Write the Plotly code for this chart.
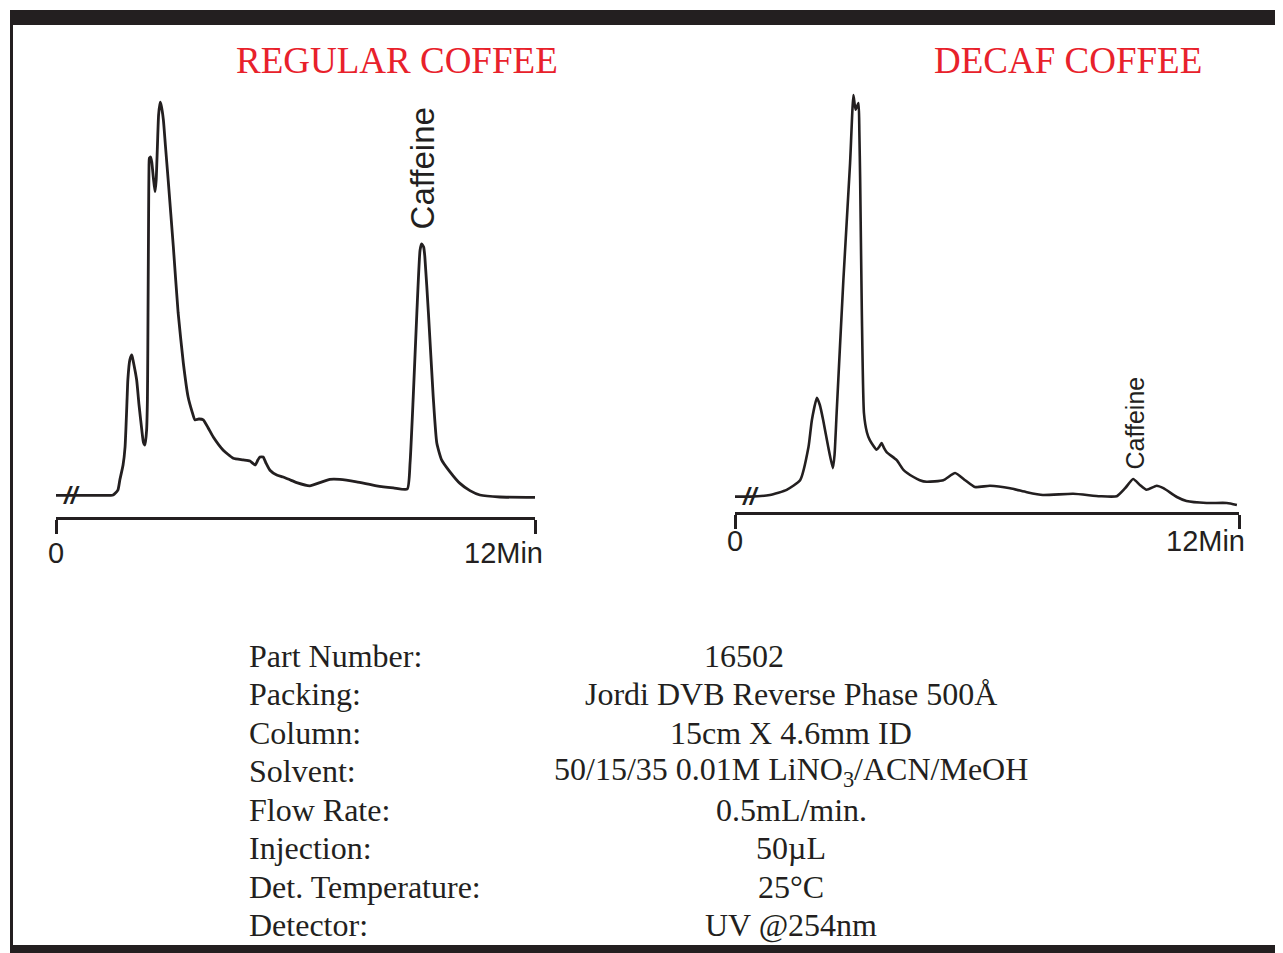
import plotly.graph_objects as go

# ---- chromatogram data (time in min, detector response in arbitrary units) ----
regular_time = [
    0.0, 0.48, 1.10, 1.43, 1.55, 1.60, 1.68, 1.73, 1.78, 1.80, 1.85, 1.90, 1.94,
    2.02, 2.08, 2.15, 2.19, 2.23, 2.27, 2.29, 2.30, 2.31, 2.32, 2.33, 2.34, 2.37,
    2.40, 2.44, 2.48, 2.51, 2.54, 2.57, 2.61, 2.64, 2.69, 2.74, 2.81, 2.94, 3.06,
    3.19, 3.31, 3.41, 3.48, 3.58, 3.69, 3.81, 3.94, 4.19, 4.44, 4.69, 4.86, 4.99,
    5.06, 5.11, 5.19, 5.26, 5.36, 5.53, 5.69, 5.86, 6.03, 6.36, 6.61, 6.86, 7.11,
    7.53, 8.03, 8.45, 8.80, 8.87, 8.95, 9.04, 9.12, 9.16, 9.21, 9.24, 9.33, 9.45,
    9.54, 9.66, 9.87, 10.12, 10.37, 10.62, 11.12, 12.0,
]
regular_signal = [
    -0.1, -0.1, -0.1, 0.0, 1.2, 3.8, 7.5, 12.0, 23.8, 28.8, 33.8, 35.0, 33.2,
    28.8, 22.5, 16.2, 13.2, 12.5, 16.2, 23.8, 36.2, 53.8, 70.5, 82.5, 84.2, 84.5,
    83.2, 79.2, 75.8, 78.8, 87.0, 95.0, 98.2, 97.2, 93.8, 87.5, 78.8, 62.0, 45.5,
    33.0, 24.5, 20.8, 18.8, 19.0, 18.8, 16.8, 14.5, 11.2, 9.2, 8.8, 8.5, 7.5,
    8.8, 9.5, 9.5, 8.0, 6.2, 5.0, 4.5, 3.8, 3.1, 2.3, 3.1, 3.9, 3.9,
    3.3, 2.3, 1.8, 1.5, 8.0, 24.6, 45.5, 61.2, 62.8, 62.0, 59.6, 45.5, 24.6,
    13.0, 8.8, 5.8, 2.9, 1.1, 0.0, -0.5, -0.6,
]

decaf_time = [
    0.0, 0.36, 0.83, 1.23, 1.55, 1.75, 1.83, 1.95, 2.02, 2.10, 2.22, 2.33, 2.37,
    2.42, 2.58, 2.74, 2.82, 2.87, 2.94, 2.96, 2.98, 3.02, 3.07, 3.14, 3.21, 3.37,
    3.43, 3.49, 3.55, 3.61, 3.85, 4.01, 4.25, 4.40, 4.56, 4.96, 5.24, 5.48, 5.71,
    6.07, 6.55, 6.95, 7.33, 8.05, 8.69, 9.09, 9.29, 9.48, 9.64, 9.80, 10.04, 10.20,
    10.52, 10.75, 11.23, 11.71, 11.95,
]
decaf_signal = [
    0.1, 0.1, 0.5, 1.8, 4.2, 12.5, 19.2, 24.8, 23.0, 19.2, 12.5, 7.2, 10.5,
    21.0, 54.2, 83.5, 100.5, 96.8, 98.5, 91.8, 79.2, 46.0, 21.0, 16.2, 14.2, 11.8,
    12.5, 13.5, 12.2, 11.2, 9.2, 6.8, 5.0, 4.2, 3.8, 4.2, 6.0, 4.2, 2.5,
    2.8, 2.2, 1.2, 0.5, 0.8, 0.2, 0.2, 2.2, 4.5, 3.0, 1.8, 2.8, 2.2,
    0.0, -1.0, -1.5, -1.5, -2.0,
]

caffeine_regular = (9.19, 81.6)   # label position (time, response)
caffeine_decaf = (9.52, 18.6)

panel_titles = ["REGULAR COFFEE", "DECAF COFFEE"]
axis_end_labels = ["0", "12Min"]

param_labels = [
    "Part Number:", "Packing:", "Column:", "Solvent:", "Flow Rate:",
    "Injection:", "Det. Temperature:", "Detector:",
]
param_values = [
    "16502", "Jordi DVB Reverse Phase 500Å", "15cm X 4.6mm ID",
    "50/15/35 0.01M LiNO<sub>3</sub>/ACN/MeOH", "0.5mL/min.", "50µL",
    "25°C", "UV @254nm",
]

# ---- layout helpers (page pixel -> paper); page body adds an 8px margin ----
OFF = 8
W, H = 1283 - OFF, 953 - OFF
INK = "#231f20"
RED = "#e8212b"


def px(x):
    return (x - OFF) / W


def py(y):
    return 1 - (y - OFF) / H


fig = go.Figure()

fig.add_trace(go.Scatter(
    x=regular_time, y=regular_signal, mode="lines",
    line=dict(color=INK, width=2.8, shape="spline", smoothing=0.5),
    xaxis="x", yaxis="y", hoverinfo="skip", showlegend=False,
))
fig.add_trace(go.Scatter(
    x=decaf_time, y=decaf_signal, mode="lines",
    line=dict(color=INK, width=2.6, shape="spline", smoothing=0.5),
    xaxis="x2", yaxis="y2", hoverinfo="skip", showlegend=False,
))

xcommon = dict(
    range=[0, 12], showline=True, linecolor=INK, linewidth=2.5,
    ticks="outside", tickvals=[0, 12], ticklen=14, tickwidth=2.5, tickcolor=INK,
    showticklabels=False, showgrid=False, zeroline=False, fixedrange=True,
)
ycommon = dict(visible=False, showgrid=False, zeroline=False, fixedrange=True)

fig.update_layout(
    width=W, height=H,
    margin=dict(l=0, r=0, t=0, b=0),
    paper_bgcolor="white", plot_bgcolor="white",
    showlegend=False,
    xaxis=dict(domain=[px(56), px(535)], anchor="y", **xcommon),
    yaxis=dict(domain=[py(517), py(90)], anchor="x",
               range=[(495 - 517) / 4, (495 - 90) / 4], **ycommon),
    xaxis2=dict(domain=[px(735), px(1239)], anchor="y2", **xcommon),
    yaxis2=dict(domain=[py(512), py(90)], anchor="x2",
                range=[(497 - 512) / 4, (497 - 90) / 4], **ycommon),
)

annotations = []

# panel titles
for title, cx in zip(panel_titles, [397, 1068]):
    annotations.append(dict(
        text=title, x=px(cx), y=py(61), xref="paper", yref="paper",
        xanchor="center", yanchor="middle", showarrow=False,
        font=dict(family="Liberation Serif", size=37, color=RED),
    ))

# axis end labels
sans = dict(family="Liberation Sans", size=29, color=INK)
for xr, ypix, shift in [("x", 553, 10), ("x2", 541, 8)]:
    annotations.append(dict(
        text=axis_end_labels[0], x=0, y=py(ypix), xref=xr, yref="paper",
        showarrow=False, xanchor="center", yanchor="middle", font=sans,
    ))
    annotations.append(dict(
        text=axis_end_labels[1], x=12, y=py(ypix), xref=xr, yref="paper",
        showarrow=False, xanchor="right", yanchor="middle", xshift=shift,
        font=sans,
    ))

# caffeine labels
annotations.append(dict(
    text="Caffeine", x=caffeine_regular[0], y=caffeine_regular[1],
    xref="x", yref="y", showarrow=False, textangle=-90,
    xanchor="center", yanchor="middle",
    font=dict(family="Liberation Sans", size=33, color=INK),
))
annotations.append(dict(
    text="Caffeine", x=caffeine_decaf[0], y=caffeine_decaf[1],
    xref="x2", yref="y2", showarrow=False, textangle=-90,
    xanchor="center", yanchor="middle",
    font=dict(family="Liberation Sans", size=25, color=INK),
))

# baseline break marks
for xr, yr, y0 in [("x", "y", 0.0), ("x2", "y2", 0.1)]:
    annotations.append(dict(
        text="<b><i>//</i></b>", x=0.38, y=y0, xref=xr, yref=yr,
        showarrow=False, xanchor="center", yanchor="middle",
        font=dict(family="Liberation Sans", size=24, color=INK),
    ))

# parameter table
serif = dict(family="Liberation Serif", size=32, color=INK)
for i, (lab, val) in enumerate(zip(param_labels, param_values)):
    yy = 656 + i * 38.43
    annotations.append(dict(
        text=lab, x=px(247), y=py(yy), xref="paper", yref="paper",
        xanchor="left", yanchor="middle", showarrow=False, font=serif,
    ))
    annotations.append(dict(
        text=val, x=px(744 if i == 0 else 791), y=py(yy), xref="paper",
        yref="paper", xanchor="center", yanchor="middle", showarrow=False,
        font=serif,
    ))

fig.update_layout(annotations=annotations)

# frame around the sheet
fig.update_layout(shapes=[
    dict(type="rect", xref="paper", yref="paper", x0=px(10), x1=px(1283),
         y0=py(25), y1=py(10), fillcolor=INK, line=dict(width=0)),
    dict(type="rect", xref="paper", yref="paper", x0=px(10), x1=px(13),
         y0=py(945), y1=py(10), fillcolor=INK, line=dict(width=0)),
    dict(type="rect", xref="paper", yref="paper", x0=px(10), x1=px(1283),
         y0=py(953), y1=py(945), fillcolor=INK, line=dict(width=0)),
])

fig.write_html("out.html")
